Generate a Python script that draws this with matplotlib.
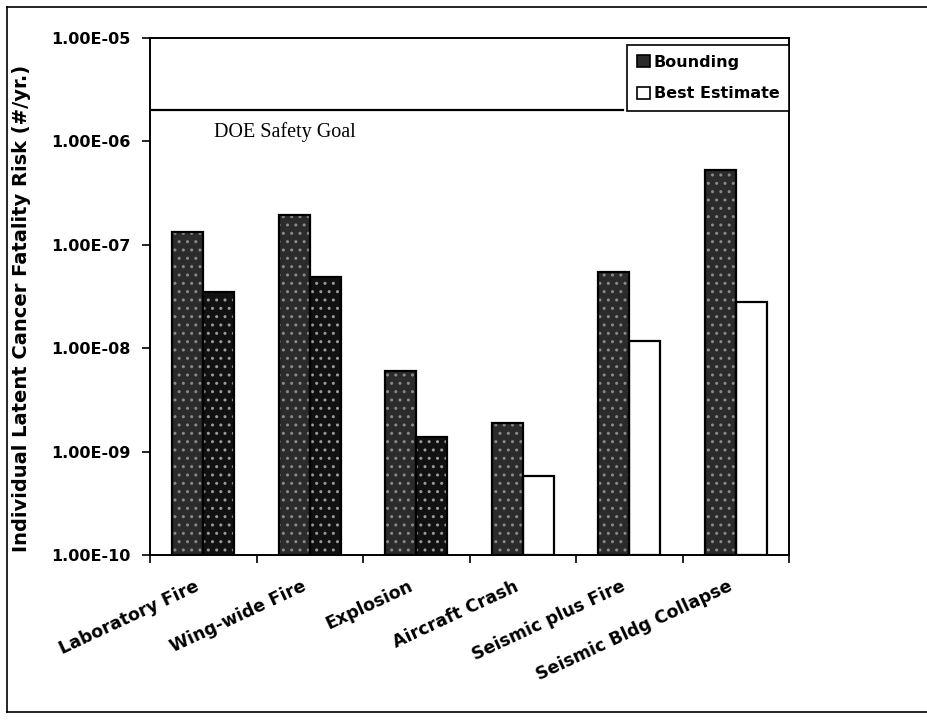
import numpy as np
import matplotlib
matplotlib.use("Agg")
import matplotlib.pyplot as plt
from matplotlib.patches import Patch
from matplotlib.lines import Line2D
from matplotlib.ticker import FixedLocator, FuncFormatter, NullLocator

# data
categories = ["Laboratory Fire", "Wing-wide Fire", "Explosion",
              "Aircraft Crash", "Seismic plus Fire", "Seismic Bldg Collapse"]
bounding = [1.33e-7, 1.94e-7, 5.9e-9, 1.77e-9, 5.4e-8, 5.3e-7]
best_estimate = [3.5e-8, 4.9e-8, 1.27e-9, 4.8e-10, 1.17e-8, 2.8e-8]
safety_goal = 2e-6
y_ticks = [1e-10, 1e-9, 1e-8, 1e-7, 1e-6, 1e-5]

# styles (scan shows the first three best-estimate bars printed dark)
bound_color = "#2b2b2b"
best_colors = ["#111111", "#111111", "#111111", "white", "white", "white"]

plt.rcParams["font.family"] = ["DejaVu Sans"]
plt.rcParams["font.weight"] = "bold"

fig = plt.figure(figsize=(9.27, 7.27), dpi=100)
ax = fig.add_axes([150 / 927, 1 - 555 / 727, 639 / 927, 517 / 727])

x = np.arange(len(categories))
w = 0.29

# fills with a light stipple, then black outlines on top
ax.bar(x - w / 2, bounding, w, bottom=1e-10, color=bound_color, edgecolor="#8a8a8a",
       hatch="..", linewidth=0, zorder=2)
ax.bar(x + w / 2, best_estimate, w, bottom=1e-10, color=best_colors, edgecolor="#9a9a9a",
       hatch=["..", "..", "..", "", "", ""], linewidth=0, zorder=2)
ax.bar(x - w / 2, bounding, w, bottom=1e-10, fill=False, edgecolor="black", linewidth=1.6, zorder=3)
ax.bar(x + w / 2, best_estimate, w, bottom=1e-10, fill=False, edgecolor="black", linewidth=1.6, zorder=3)

ax.set_yscale("log")
ax.set_ylim(1e-10, 1e-5)
ax.set_xlim(-0.5, len(categories) - 0.5)
ax.yaxis.set_major_locator(FixedLocator(y_ticks))
ax.yaxis.set_minor_locator(NullLocator())
ax.yaxis.set_major_formatter(FuncFormatter(lambda v, p: f"{v:.2E}"))

# category boundaries get the tick marks, labels end a little left of the centers
ax.set_xticks(np.arange(len(categories) + 1) - 0.5)
ax.set_xticklabels([])
ax.set_xticks(x - 0.08, minor=True)
ax.set_xticklabels(categories, minor=True, rotation=25, ha="right", va="top",
                   rotation_mode="anchor", fontsize=12.5, fontweight="bold")
ax.tick_params(axis="x", which="major", direction="out", length=6, width=1.2)
ax.tick_params(axis="x", which="minor", length=0, pad=16)
ax.tick_params(axis="y", direction="out", length=6, width=1.2, labelsize=11.5, pad=8)
for lab in ax.get_yticklabels():
    lab.set_fontweight("bold")

for s in ax.spines.values():
    s.set_linewidth(1.4)

ax.axhline(safety_goal, xmin=0, xmax=0.74, color="black", linewidth=1.6, zorder=4)
ax.text(0.1, 1.55e-6, "DOE Safety Goal", family=["Liberation Serif", "DejaVu Serif"],
        fontweight="normal", fontsize=14.5, va="top", ha="left", transform=ax.get_yaxis_transform())

handles = [Patch(facecolor=bound_color, edgecolor="black", linewidth=1.2),
           Patch(facecolor="white", edgecolor="black", linewidth=1.2)]
leg = ax.legend(handles, ["Bounding", "Best Estimate"], loc="upper right",
                bbox_to_anchor=(1.0, 1 - 7 / 517), borderaxespad=0, fancybox=False,
                edgecolor="black", framealpha=1, handlelength=0.8, handleheight=0.8,
                handletextpad=0.25, borderpad=0.6, labelspacing=1.05,
                prop={"size": 11.5, "weight": "bold"})
leg.get_frame().set_linewidth(1.2)
leg.set_zorder(5)

fig.text(22 / 927, 1 - 308 / 727, "Individual Latent Cancer Fatality Risk (#/yr.)",
         rotation=90, ha="center", va="center", fontsize=14, fontweight="bold")

# scanned page frame
for xs, ys in [([7, 7], [7, 712]), ([7, 927], [7, 7]), ([7, 927], [712, 712])]:
    fig.add_artist(Line2D(np.array(xs) / 927, 1 - np.array(ys) / 727, color="black", linewidth=1.2))

fig.savefig("out.png", dpi=100)
